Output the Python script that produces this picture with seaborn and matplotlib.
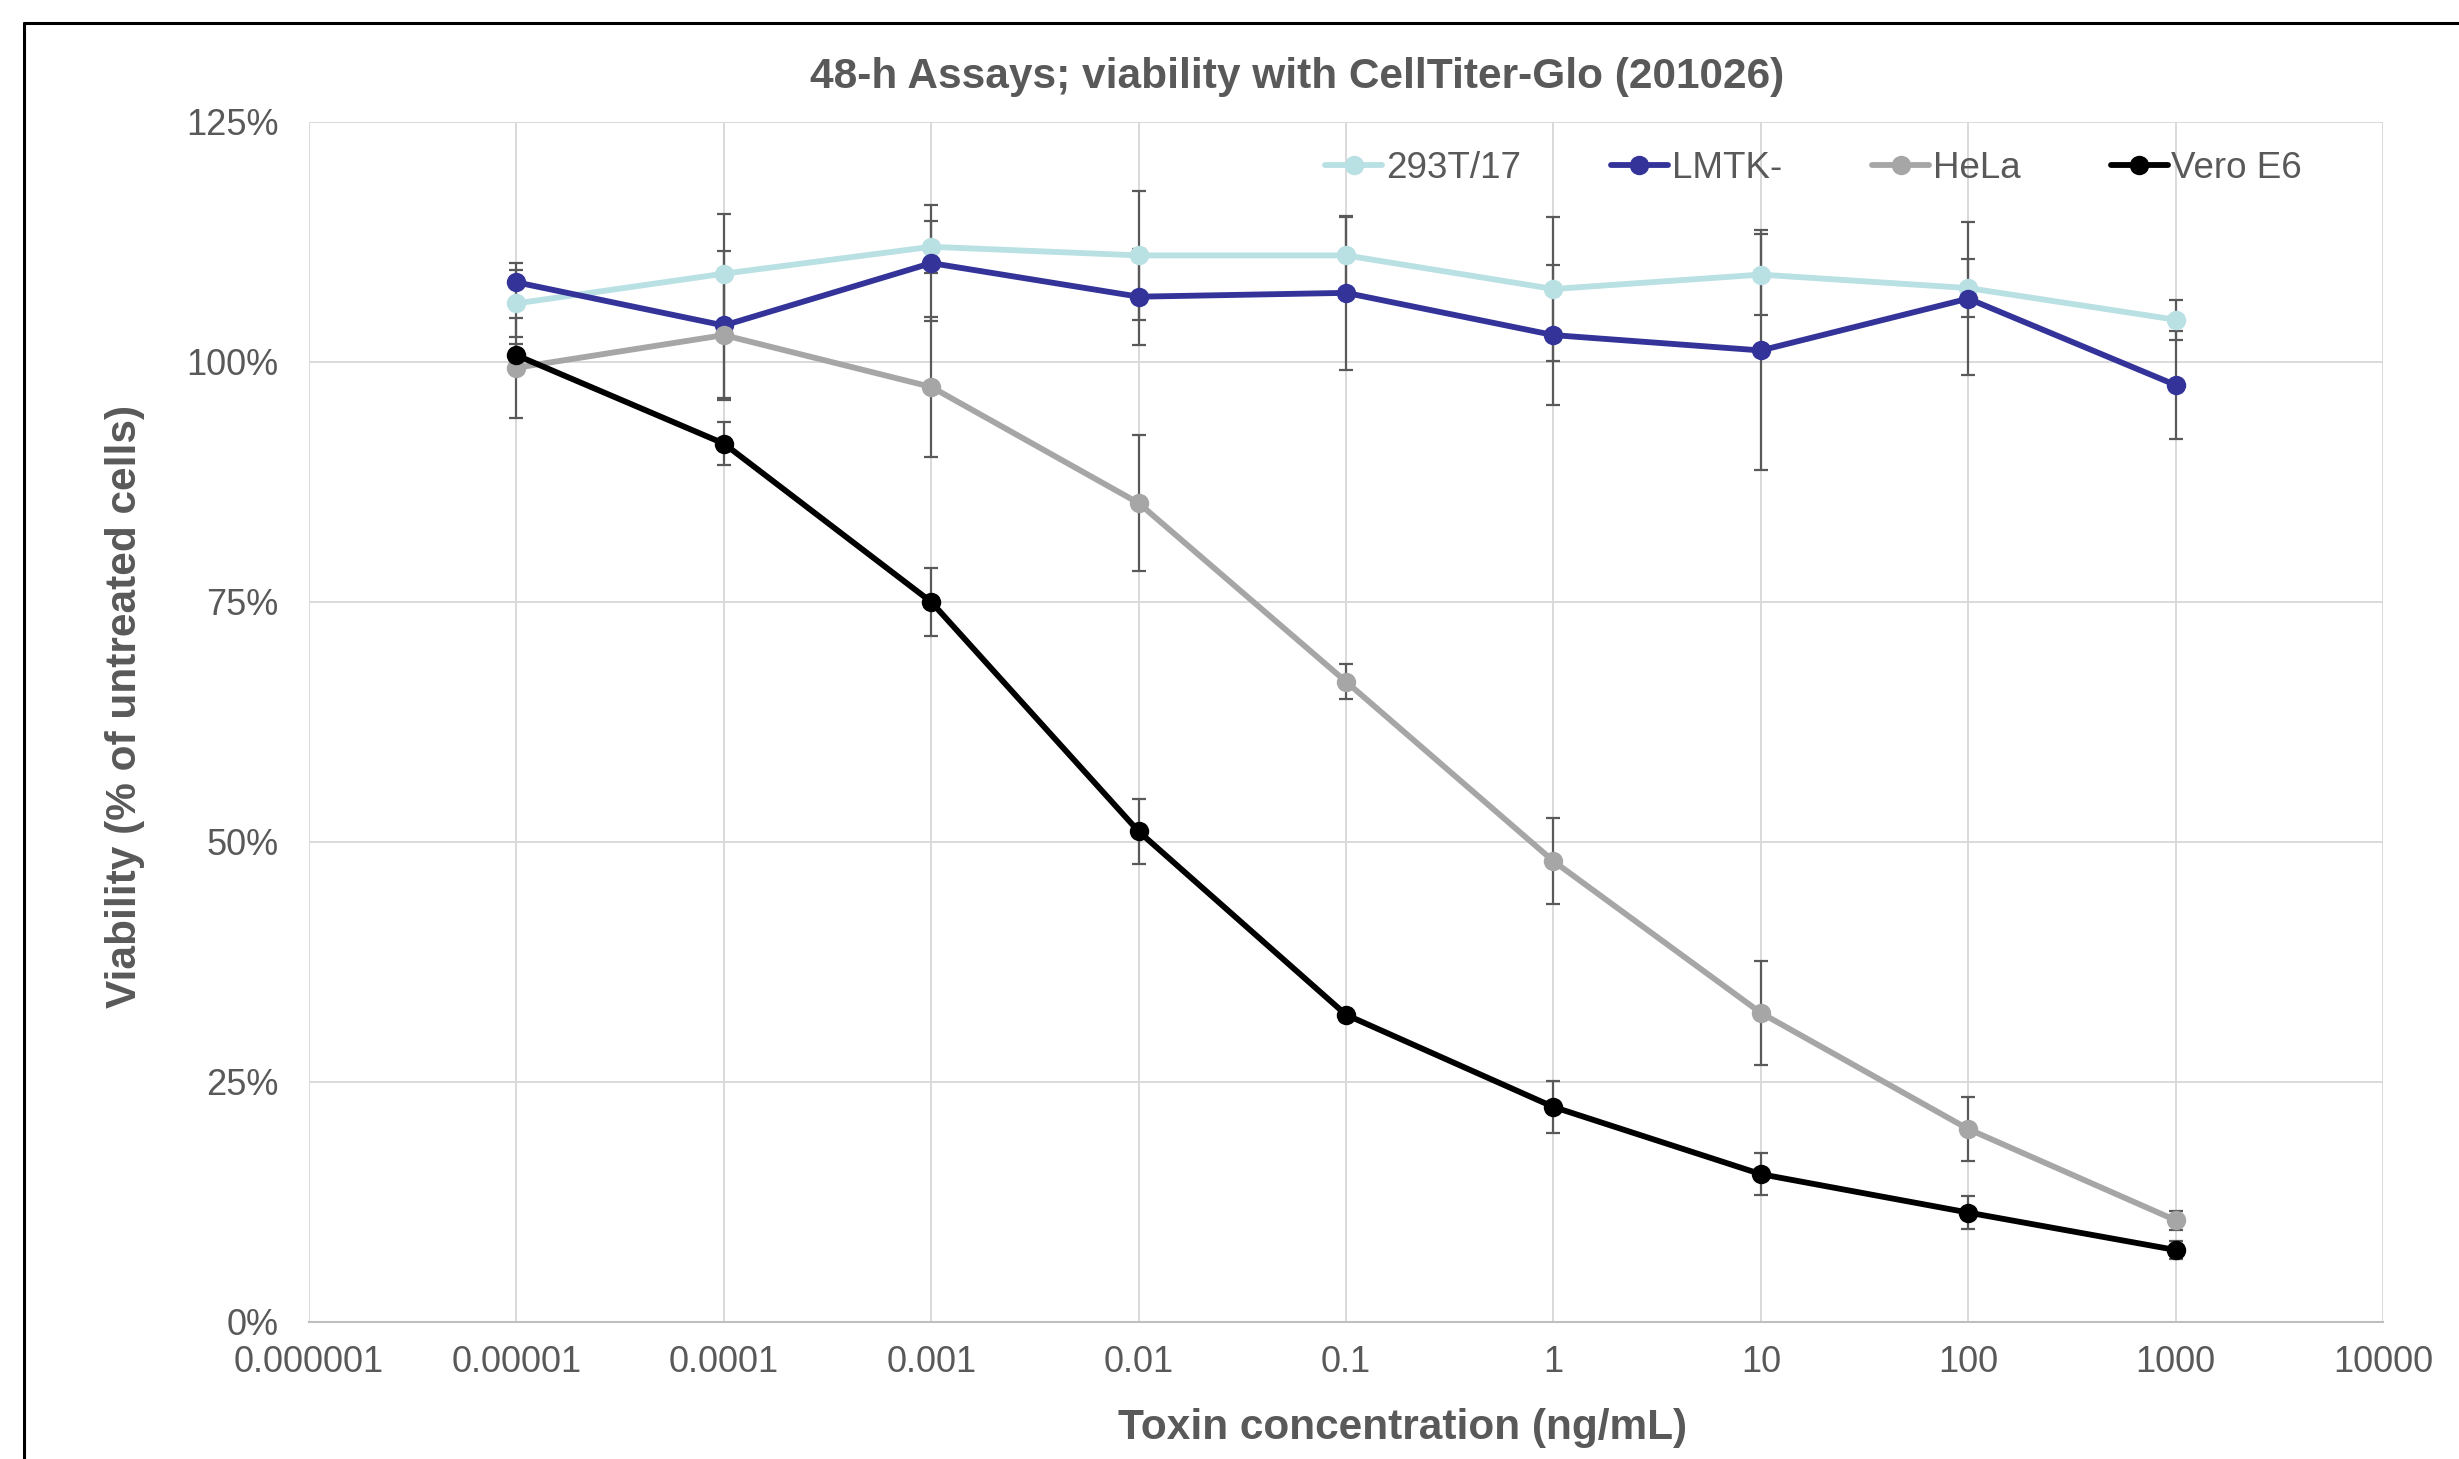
import matplotlib
matplotlib.use("Agg")
import matplotlib.pyplot as plt
import matplotlib.ticker as mticker
from matplotlib.lines import Line2D
import numpy as np
import pandas as pd
import seaborn as sns

# toxin concentration (ng/mL)
conc = [1e-5, 1e-4, 1e-3, 1e-2, 1e-1, 1, 10, 100, 1000]

cells = ["293T/17", "LMTK-", "HeLa", "Vero E6"]
colors = ["#B9E0E3", "#333399", "#A6A6A6", "#000000"]

# viability (% of untreated) and SD
v_293t = [106.1, 109.2, 112.0, 111.1, 111.1, 107.6, 109.1, 107.7, 104.4]
sd_293t = [3.5, 6.2, 2.7, 6.7, 4.0, 7.5, 4.2, 3.0, 2.1]
v_lmtk = [108.3, 103.8, 110.3, 106.8, 107.2, 102.8, 101.2, 106.6, 97.6]
sd_lmtk = [2.0, 7.8, 6.0, 5.0, 8.0, 7.3, 12.5, 8.0, 5.6]
v_hela = [99.4, 102.8, 97.4, 85.3, 66.7, 48.0, 32.2, 20.1, 10.6]
sd_hela = [5.2, 6.6, 7.3, 7.1, 1.8, 4.5, 5.4, 3.35, 1.0]
v_vero = [100.7, 91.5, 75.0, 51.1, 32.0, 22.4, 15.4, 11.4, 7.5]
sd_vero = [1.2, 2.2, 3.5, 3.4, 0.6, 2.75, 2.2, 1.75, 0.9]

values = [v_293t, v_lmtk, v_hela, v_vero]
sds = [sd_293t, sd_lmtk, sd_hela, sd_vero]

x_ticks = [1e-6, 1e-5, 1e-4, 1e-3, 1e-2, 1e-1, 1, 10, 100, 1000, 10000]
x_labels = ["0.000001", "0.00001", "0.0001", "0.001", "0.01", "0.1",
            "1", "10", "100", "1000", "10000"]
y_ticks = [0, 25, 50, 75, 100, 125]

df = pd.DataFrame({
    "conc": conc * len(cells),
    "viability": sum(values, []),
    "sd": sum(sds, []),
    "cell": [c for c in cells for _ in conc],
})

sns.set_style("white")
plt.rcParams["font.family"] = ["Liberation Sans", "DejaVu Sans"]
txt = "#595959"
lw, ms = 4.2, 14

fig = plt.figure(figsize=(24.59, 14.59), dpi=100)
ax = fig.add_axes([0.1257, 0.0939, 0.8434, 0.8225])
ax.set_xscale("log")

# error bars first so markers sit on top
for cell in cells:
    sub = df[df["cell"] == cell]
    ax.errorbar(sub["conc"], sub["viability"], yerr=sub["sd"], fmt="none",
                ecolor="#595959", elinewidth=1.6, capsize=4.7, capthick=1.6,
                zorder=1.5)

sns.lineplot(data=df, x="conc", y="viability", hue="cell", hue_order=cells,
             palette=colors, marker="o", markersize=ms, markeredgewidth=0,
             linewidth=lw, errorbar=None, ax=ax, legend=False, zorder=2)

ax.set_xlim(1e-6, 1e4)
ax.set_ylim(0, 125)
ax.xaxis.set_major_locator(mticker.FixedLocator(x_ticks))
ax.xaxis.set_major_formatter(mticker.FixedFormatter(x_labels))
ax.xaxis.set_minor_locator(mticker.LogLocator(base=10, subs=np.arange(2, 10), numticks=50))
ax.xaxis.set_minor_formatter(mticker.NullFormatter())
ax.set_yticks(y_ticks)
ax.yaxis.set_major_formatter(mticker.FuncFormatter(lambda v, p: f"{v:.0f}%"))

ax.grid(True, which="major", color="#D9D9D9", linewidth=1.4)
ax.set_axisbelow(True)
for s in ["top", "right", "left"]:
    ax.spines[s].set_visible(False)
ax.spines["bottom"].set_color("#BFBFBF")
ax.spines["bottom"].set_linewidth(1.5)

ax.tick_params(axis="x", which="both", direction="out", length=5.5, width=1.1,
               color="#BFBFBF", labelsize=26, labelcolor=txt, pad=11)
ax.tick_params(axis="y", length=0, labelsize=26, labelcolor=txt, pad=22)
ax.set_xlabel("")
ax.set_ylabel("")

handles = [Line2D([], [], color=c, marker="o", markersize=ms, markeredgewidth=0,
                  linewidth=lw) for c in colors]
ax.legend(handles, cells, loc="center right", bbox_to_anchor=(0.961, 0.961),
          ncol=4, frameon=False, fontsize=26.5, labelcolor=txt, handlelength=1.55,
          handletextpad=0.1, columnspacing=2.45, borderpad=0, borderaxespad=0)

fig.text(0.5275, 0.947, "48-h Assays; viability with CellTiter-Glo (201026)",
         ha="center", va="center", fontsize=30.5, fontweight="bold", color=txt)
fig.text(0.5702, 0.021, "Toxin concentration (ng/mL)", ha="center", va="center",
         fontsize=30.5, fontweight="bold", color=txt)
fig.text(0.0508, 0.516, "Viability (% of untreated cells)", ha="center", va="center",
         rotation=90, fontsize=30.5, fontweight="bold", color=txt)

# outer chart border (top and left edges visible in the crop)
x0, y1 = 24 / 2459, 1 - 23 / 1459
fig.add_artist(Line2D([x0, 1.0], [y1, y1], color="black", linewidth=2.2,
                      transform=fig.transFigure))
fig.add_artist(Line2D([x0, x0], [0.0, y1], color="black", linewidth=2.2,
                      transform=fig.transFigure))

fig.savefig("out.png", dpi=100, facecolor="white")
